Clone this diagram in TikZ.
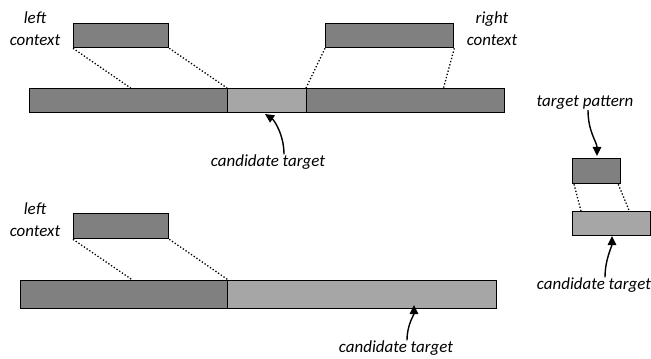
\documentclass[tikz,border=0pt]{standalone}
\usepackage{fontspec}
\setmainfont{Carlito}
\usetikzlibrary{arrows.meta, positioning, calc}
\definecolor{ctxgray}{RGB}{128, 128, 128}
\definecolor{candgray}{RGB}{166, 166, 166}

\begin{document}
\begin{tikzpicture}[
    x=1bp, y=-1bp,
    seg/.style={rectangle, draw, line width=1.3bp, inner sep=0pt, anchor=north west},
    ctx/.style={seg, fill=ctxgray},
    cand/.style={seg, fill=candgray},
    link/.style={dotted, line width=1.3bp},
    arrow/.style={-{Triangle[length=3.2mm, width=3mm]}, line width=1.4bp},
    label/.style={font=\fontsize{17}{22}\selectfont\itshape, align=center, inner sep=0pt}
]
\useasboundingbox (0,0) rectangle (651,358);

% Row 1: left context, candidate, right context
\node[ctx, minimum width=95bp, minimum height=24bp] (lctx1) at (73,23) {};
\node[ctx, minimum width=128bp, minimum height=24bp] (rctx1) at (325,23) {};
\node[ctx, minimum width=198bp, minimum height=24bp] (left1) at (29,88) {};
\node[cand, minimum width=79bp, minimum height=24bp] (cand1) at (227,88) {};
\node[ctx, minimum width=198bp, minimum height=24bp] (right1) at (306,88) {};

\node[label] (lctxlbl1) at (35,29) {left\\context};
\node[label] (rctxlbl1) at (492,29) {right\\context};
\node[label] (candlbl1) at (268,162) {candidate target};

\draw[link] (lctx1.south west) -- ($(left1.north west)!0.51!(left1.north east)$);
\draw[link] (lctx1.south east) -- (cand1.north west);
\draw[link] (rctx1.south west) -- (right1.north west);
\draw[link] (rctx1.south east) -- ($(right1.north west)!0.69!(right1.north east)$);

\coordinate (tip1) at (265,114);
\draw[arrow] ([xshift=16bp]candlbl1.north) .. controls +(0,-20) and +(9,6) .. (tip1);

% Row 2: left context, open candidate
\node[ctx, minimum width=95bp, minimum height=25bp] (lctx2) at (73,213) {};
\node[ctx, minimum width=207bp, minimum height=28bp] (left2) at (20,280) {};
\node[cand, minimum width=269bp, minimum height=28bp] (cand2) at (227,280) {};

\node[label] (lctxlbl2) at (35,220) {left\\context};
\node[label] (candlbl2) at (396,348) {candidate target};

\draw[link] (lctx2.south west) -- ($(left2.north west)!0.54!(left2.north east)$);
\draw[link] (lctx2.south east) -- (left2.north east);

\coordinate (tip2) at (414,305);
\draw[arrow] ([xshift=11bp]candlbl2.north) .. controls +(0,-16) and +(0,10) .. (tip2);

% Pattern vs candidate
\node[label] (patlbl) at (585,103) {target pattern};
\node[ctx, minimum width=48bp, minimum height=25bp] (pat) at (572,158) {};
\node[cand, minimum width=78bp, minimum height=24bp] (cand3) at (572,211) {};
\node[label] (candlbl3) at (594,285) {candidate target};

\draw[link] ([xshift=2bp]pat.south west) -- ([xshift=9bp]cand3.north west);
\draw[link] ([xshift=-3bp]pat.south east) -- ([xshift=-22bp]cand3.north east);

\coordinate (tip3) at (597,156);
\draw[arrow] ([xshift=3bp]patlbl.south) .. controls +(0,22) and +(0,-14) .. (tip3);
\coordinate (tip4) at (612,236);
\draw[arrow] ([xshift=11bp]candlbl3.north) .. controls +(0,-18) and +(0,10) .. (tip4);

\end{tikzpicture}
\end{document}
